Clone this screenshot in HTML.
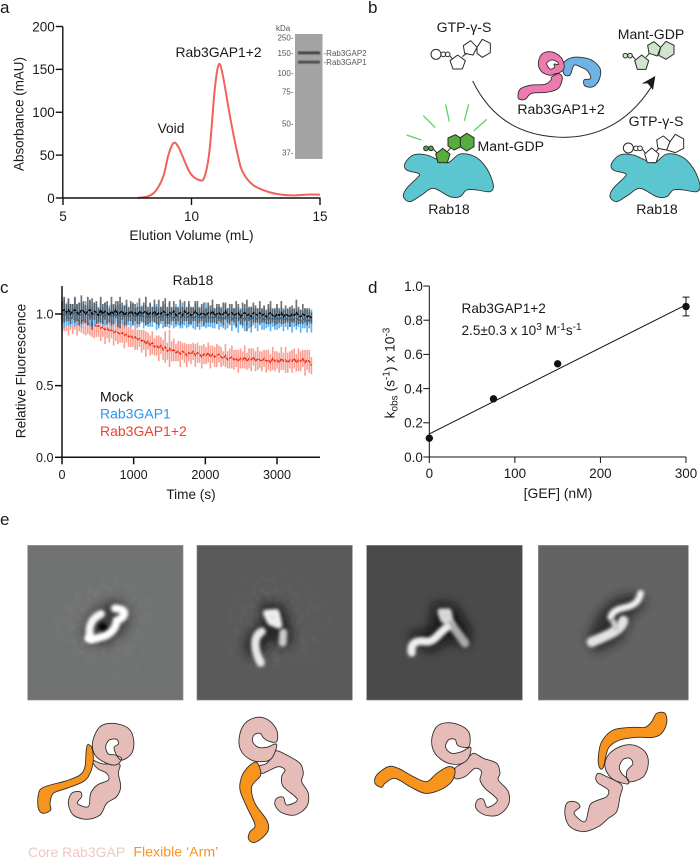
<!DOCTYPE html>
<html lang="en">
<head>
<meta charset="utf-8">
<title>Rab3GAP figure</title>
<style>
html,body{margin:0;padding:0;background:#fff}
svg{display:block}
text{font-family:"Liberation Sans",sans-serif;fill:#1a1a1a}
.ol{stroke:#2a2a2a;stroke-width:2.6;stroke-linejoin:round}
.core{fill:#e6bcb8}
.arm{fill:#f7941d}
.mol{fill:none;stroke:#2a2a2a;stroke-width:3;stroke-linejoin:round}
.w{fill:none;stroke-linecap:round;stroke-linejoin:round}
</style>
</head>
<body>
<svg id="fig" xmlns="http://www.w3.org/2000/svg" width="700" height="858" viewBox="0 0 700 858">
<defs>
<filter id="b3" filterUnits="userSpaceOnUse" x="0" y="0" width="1100" height="700"><feGaussianBlur stdDeviation="5"/></filter>
<filter id="b5" filterUnits="userSpaceOnUse" x="0" y="0" width="1100" height="700"><feGaussianBlur stdDeviation="15"/></filter>
<filter id="b1" x="-20%" y="-200%" width="140%" height="500%"><feGaussianBlur stdDeviation="0.6"/></filter>
<filter id="noise" x="0" y="0" width="100%" height="100%"><feTurbulence type="fractalNoise" baseFrequency="0.05" numOctaves="2" seed="7"/><feColorMatrix type="matrix" values="0 0 0 0 0.5 0 0 0 0 0.5 0 0 0 0 0.5 2.4 0 0 0 -0.95"/></filter>
<radialGradient id="fade"><stop offset="0.35" stop-color="#fff"/><stop offset="1" stop-color="#000"/></radialGradient>
<mask id="noiseMask1" maskUnits="userSpaceOnUse" x="82" y="105" width="468" height="466"><circle cx="316" cy="340" r="200" fill="url(#fade)"/></mask>
<mask id="noiseMask2" maskUnits="userSpaceOnUse" x="590" y="105" width="468" height="466"><circle cx="824" cy="340" r="200" fill="url(#fade)"/></mask>
<clipPath id="c1"><rect x="82" y="105" width="468" height="466"/></clipPath>
<clipPath id="c2"><rect x="590" y="105" width="468" height="466"/></clipPath>
<clipPath id="c3"><rect x="49" y="105" width="469" height="466"/></clipPath>
<clipPath id="c4"><rect x="564" y="105" width="452" height="466"/></clipPath>
</defs>

<text x="0" y="13" font-size="17">a</text>
<text x="368" y="13" font-size="17">b</text>
<text x="0" y="293" font-size="17">c</text>
<text x="368" y="293" font-size="17">d</text>
<text x="0" y="525" font-size="17">e</text>

<!-- Panel a -->
<g id="panelA"></g>
<text x="171" y="133" font-size="13.8" text-anchor="middle">Void</text>
<text x="175.5" y="57" font-size="13.9">Rab3GAP1+2</text>
<text x="191.5" y="240" font-size="13.8" text-anchor="middle">Elution Volume (mL)</text>
<text transform="translate(23.5,114) rotate(-90)" font-size="13.4" text-anchor="middle">Absorbance (mAU)</text>

<g>
  <rect x="295" y="34" width="27.5" height="125" fill="#a3a3a3"/>
  <rect x="298" y="51.4" width="22" height="3" fill="#4a4a4a" filter="url(#b1)"/>
  <rect x="298" y="60.6" width="22" height="3" fill="#525252" filter="url(#b1)"/>
  <g font-size="8">
    <text x="276" y="31" style="fill:#555">kDa</text>
    <text x="293.5" y="40.5" text-anchor="end" style="fill:#555">250-</text>
    <text x="293.5" y="56" text-anchor="end" style="fill:#555">150-</text>
    <text x="293.5" y="76" text-anchor="end" style="fill:#555">100-</text>
    <text x="293.5" y="94.5" text-anchor="end" style="fill:#555">75-</text>
    <text x="293.5" y="126.5" text-anchor="end" style="fill:#555">50-</text>
    <text x="293.5" y="155.5" text-anchor="end" style="fill:#555">37-</text>
    <text x="323.5" y="56" style="fill:#555">-Rab3GAP2</text>
    <text x="323.5" y="65" style="fill:#555">-Rab3GAP1</text>
  </g>
</g>

<!-- Panel b -->
<g transform="translate(350,0) scale(0.33333)">
  <path class="ol" fill="#5cc6d0" data-pts="165,490 190,465 230,465 265,480 295,488 330,462 375,470 410,505 430,555 420,575 380,570 350,570 330,590 300,590 250,565 215,585 180,605 160,590 170,565 205,530 205,520 170,510"/>
  <path class="ol" fill="#5cc6d0" data-pts="785,490 810,465 850,465 885,480 915,488 950,462 995,470 1030,505 1050,555 1040,575 1000,570 970,570 950,590 920,590 870,565 835,585 800,605 780,590 790,565 825,530 825,520 790,510"/>
  <path d="M368 243 C430 370 530 410 640 412 C750 412 840 360 903 262" fill="none" stroke="#2a2a2a" stroke-width="3"/>
  <polygon points="916,228 875,251 893,250 909,270" fill="#1a1a1a"/>
  <g stroke="#5fd16c" stroke-width="4">
    <line x1="170" y1="405" x2="214" y2="420"/>
    <line x1="220" y1="347" x2="256" y2="383"/>
    <line x1="287" y1="313" x2="298" y2="365"/>
    <line x1="356" y1="313" x2="343" y2="363"/>
    <line x1="410" y1="358" x2="372" y2="392"/>
  </g>
  <g class="mol" fill="none">
    <circle cx="258" cy="163" r="15" fill="#fff"/><circle cx="280" cy="163" r="7"/><circle cx="293" cy="163" r="7"/>
    <polygon points="323,165 346,182 337,207 309,207 300,182"/><path d="M300 168 L308 178 M337 170 L350 160"/>
    <polygon points="362,122 381,142 369,165 344,160 340,137"/><polygon points="381,142 397,118 421,130 421,158 397,172 381,160"/>
  </g>
  <g stroke="#2a2a2a" stroke-width="3" stroke-linejoin="round" fill="#cfe6cc">
    <circle cx="826" cy="167" r="7"/><circle cx="840" cy="167" r="7"/>
    <polygon points="875,165 896,182 888,208 862,208 854,182"/><path d="M847 168 L856 178 M888 172 L900 158" fill="none"/>
    <polygon points="912,125 932,142 922,168 897,160 893,136"/><polygon points="932,142 948,124 972,136 972,162 948,178 926,166"/>
  </g>
  <g stroke="#2a2a2a" stroke-width="3" stroke-linejoin="round" fill="#56ad3e">
    <circle cx="228" cy="445" r="7"/><circle cx="243" cy="445" r="7"/><path d="M250 447 L262 460" fill="none"/>
    <polygon points="278,445 300,462 292,488 264,488 257,462"/><path d="M292 455 L305 440" fill="none"/>
    <polygon points="316,404 335,416 333,440 312,450 294,438 294,414"/><polygon points="350,400 372,413 372,440 350,453 331,440 331,413"/>
  </g>
  <g stroke="#2a2a2a" stroke-width="3" stroke-linejoin="round" fill="#fff">
    <circle cx="835" cy="444" r="15"/><circle cx="858" cy="445" r="7"/><circle cx="870" cy="445" r="7"/><path d="M877 447 L886 460" fill="none"/>
    <polygon points="905,444 927,462 918,488 892,488 884,462"/><path d="M918 455 L930 440" fill="none"/>
    <polygon points="940,408 960,425 950,450 924,445 920,420"/><polygon points="960,425 976,403 1001,417 1001,445 976,458 950,450"/>
  </g>
  <path class="ol" fill="#6fb3e4" data-pts="640,190 670,172 720,178 750,205 748,238 730,260 705,258 702,240 722,235 712,212 690,200 672,196 660,225 642,222"/>
  <path class="ol" fill="#ee7bb0" data-pts="640,210 640,185 625,165 600,155 575,163 565,190 575,215 600,226 622,220 637,232 625,265 590,277 545,280 525,298 505,295 510,268 540,256 585,253 603,240 606,230"/>
  <path class="ol" fill="#fff" data-pts="590,190 605,180 622,186 625,194 612,192 614,202 600,207"/>
</g>
<g font-size="14.1" text-anchor="middle">
  <text x="464" y="32">GTP-γ-S</text>
  <text x="651" y="39">Mant-GDP</text>
  <text x="561" y="114">Rab3GAP1+2</text>
  <text x="656" y="126">GTP-γ-S</text>
  <text x="477.5" y="151" text-anchor="start">Mant-GDP</text>
  <text x="449" y="214">Rab18</text>
  <text x="657" y="214">Rab18</text>
</g>

<!-- Panel c -->
<g id="panelC"></g>
<text x="193" y="285" font-size="13.8" text-anchor="middle">Rab18</text>
<text x="191" y="499" font-size="13.6" text-anchor="middle">Time (s)</text>
<text transform="translate(25.5,371) rotate(-90)" font-size="13.6" text-anchor="middle">Relative Fluorescence</text>
<text x="100" y="401.5" font-size="14" style="fill:#111">Mock</text>
<text x="100" y="418.5" font-size="14" style="fill:#2b95ee">Rab3GAP1</text>
<text x="100" y="436" font-size="14" style="fill:#f0402a">Rab3GAP1+2</text>

<!-- Panel d -->
<g id="panelD"></g>
<text x="558" y="498" font-size="13.9" text-anchor="middle">[GEF] (nM)</text>
<text transform="translate(394.5,373) rotate(-90)" font-size="13.8" text-anchor="middle">k<tspan font-size="10" dy="3">obs</tspan><tspan dy="-3"> (s</tspan><tspan font-size="10" dy="-5">-1</tspan><tspan dy="5">) x 10</tspan><tspan font-size="10" dy="-5">-3</tspan></text>
<text x="461.5" y="313" font-size="13.6">Rab3GAP1+2</text>
<text x="461.5" y="335" font-size="13.6">2.5±0.3 x 10<tspan font-size="10" dy="-5">3</tspan><tspan dy="5"> M</tspan><tspan font-size="10" dy="-5">-1</tspan><tspan dy="5">s</tspan><tspan font-size="10" dy="-5">-1</tspan></text>

<!-- Panel e: class averages -->
<g transform="translate(0,510) scale(0.33333)">
  <g clip-path="url(#c1)">
    <rect x="82" y="105" width="468" height="466" fill="#717372" stroke="#aaa" stroke-width="3"/>
    <rect x="82" y="105" width="468" height="466" filter="url(#noise)" mask="url(#noiseMask1)" opacity=".12"/>
    <path d="M255 395 L250 340 L300 285 L355 265 L395 310 L375 365 L315 410 Z" fill="#333" filter="url(#b5)" opacity=".8"/>
    <path class="w" d="M272 385 C262 350 275 325 303 312" stroke="#f8f8f8" stroke-width="24" filter="url(#b3)"/>
    <path class="w" d="M345 295 C385 297 378 322 350 332 C348 352 335 375 300 382 C285 388 272 388 265 385" stroke="#fff" stroke-width="24" filter="url(#b3)"/>
    <ellipse cx="308" cy="350" rx="13" ry="11" fill="#050505" filter="url(#b3)"/>
  </g>
  <g clip-path="url(#c2)">
    <rect x="590" y="105" width="468" height="466" fill="#5a5a5a" stroke="#aaa" stroke-width="3"/>
    <rect x="590" y="105" width="468" height="466" filter="url(#noise)" mask="url(#noiseMask2)" opacity=".1"/>
    <path d="M785 278 L850 283 L880 372 L862 418 L810 390 L780 450 L735 428 L738 380 L782 340 Z" fill="#1a1a1a" filter="url(#b5)" opacity=".85"/>
    <path class="w" d="M800 310 L828 308 L836 345 L812 335 Z" stroke="#eee" stroke-width="22" fill="#eee" filter="url(#b3)"/>
    <path class="w" d="M850 368 L848 398" stroke="#ccc" stroke-width="24" filter="url(#b3)"/>
    <path class="w" d="M785 365 C758 380 762 420 782 458" stroke="#e8e8e8" stroke-width="25" filter="url(#b3)"/>
  </g>
</g>
<g transform="translate(350,510) scale(0.33333)">
  <g clip-path="url(#c3)">
    <rect x="49" y="105" width="469" height="466" fill="#4a4a4a" stroke="#aaa" stroke-width="3"/>
    <path d="M250 278 L315 283 L362 360 L355 412 L300 392 L240 428 L170 375 L240 355 Z" fill="#111" filter="url(#b5)" opacity=".8"/>
    <path class="w" d="M272 305 L295 305 L303 345 L280 328 Z" stroke="#d8d8d8" stroke-width="20" fill="#d8d8d8" filter="url(#b3)"/>
    <path class="w" d="M305 345 C320 365 335 385 345 400" stroke="#aaa" stroke-width="26" filter="url(#b3)"/>
    <path class="w" d="M185 428 C180 395 205 390 230 395 C255 395 265 370 290 352" stroke="#f0f0f0" stroke-width="24" filter="url(#b3)"/>
  </g>
  <g clip-path="url(#c4)">
    <rect x="564" y="105" width="452" height="466" fill="#636363" stroke="#aaa" stroke-width="3"/>
    <path d="M850 250 L890 275 L838 328 L818 388 L740 430 L710 385 L748 308 L790 265 Z" fill="#1c1c1c" filter="url(#b5)" opacity=".75"/>
    <path class="w" d="M872 250 C865 280 850 288 815 295 C795 300 785 310 782 322" stroke="#f0f0f0" stroke-width="20" filter="url(#b3)"/>
    <path class="w" d="M820 332 C815 360 775 375 725 396" stroke="#e4e4e4" stroke-width="30" filter="url(#b3)"/>
    <path class="w" d="M790 335 L800 355" stroke="#ccc" stroke-width="18" filter="url(#b3)"/>
  </g>
</g>

<!-- Panel e: cartoons -->
<g transform="translate(0,510) scale(0.33333)">
  <g>
    <path class="ol core" data-pts="275,750 292,775 320,790 325,810 292,825 272,850 265,890 232,880 245,860 240,845 215,850 205,880 220,915 260,928 300,915 320,880 350,860 362,830 355,790 358,762 310,762"/>
    <path class="ol arm" data-pts="262,705 275,712 280,750 270,790 250,815 200,835 160,850 150,880 152,900 130,910 115,895 115,855 130,832 200,812 240,795 255,770 258,730"/>
    <path class="ol core" data-pts="362,750 395,730 401,690 385,655 340,640 300,650 278,695 285,735 320,760 350,764 365,745 345,735 325,732 317,710 328,690 350,688 355,702 342,715"/>
  </g>
  <g>
    <path class="ol core" data-pts="775,770 800,760 820,735 830,722 860,735 900,760 910,790 905,815 925,850 920,890 885,915 845,908 825,885 830,865 850,862 860,885 892,868 850,830 845,800 855,780 835,770 800,785 785,790"/>
    <path class="ol arm" data-pts="770,757 782,795 755,830 765,880 800,930 805,960 785,985 760,998 745,985 750,965 765,945 740,890 720,840 725,800 745,770"/>
    <path class="ol core" data-pts="830,695 830,660 805,630 770,622 735,640 718,680 722,720 750,748 785,755 815,745 830,703 800,712 775,712 758,695 762,675 780,670 790,683 805,693"/>
  </g>
  <text x="84" y="1041" font-size="42" style="fill:#ecc8c4">Core Rab3GAP</text>
  <text x="400" y="1039" font-size="42.5" style="fill:#f7941d">Flexible ‘Arm’</text>
</g>
<g transform="translate(350,510) scale(0.33333)">
  <g>
    <path class="ol core" data-pts="315,775 345,755 370,730 400,745 440,760 450,790 445,810 475,845 475,885 445,915 405,915 378,895 382,870 400,868 412,892 442,870 405,835 390,810 395,785 375,775 345,800 315,805"/>
    <path class="ol arm" data-pts="295,770 315,780 305,815 270,840 225,850 180,830 135,805 105,820 95,832 75,820 80,795 115,770 145,775 190,800 230,815 260,790"/>
    <path class="ol core" data-pts="358,708 358,670 335,648 295,638 260,650 245,690 255,730 290,758 330,762 355,745 362,712 335,725 305,730 287,712 295,690 315,688 322,705 340,712"/>
  </g>
  <g>
    <path class="ol core" data-pts="745,790 770,800 815,825 810,860 800,905 775,925 745,950 700,965 660,950 645,915 650,880 675,875 690,890 672,910 705,935 720,885 745,870 770,860 775,840 745,820 737,805"/>
    <path class="ol arm" data-pts="748,772 745,740 755,695 790,660 850,652 885,652 905,635 920,610 945,610 950,640 935,670 910,682 860,682 810,690 775,715 760,772"/>
    <path class="ol core" data-pts="838,815 880,800 895,760 885,725 850,705 810,710 775,735 765,770 785,805 830,822 835,810 815,790 808,770 820,748 840,745 848,762 830,785"/>
  </g>
</g>
</svg>

<script>
// ---- Panel a data ----
const elutionVolume = [7.9,8.3,8.6,8.9,9.1,9.3,9.5,9.8,10.0,10.3,10.5,10.7,10.9,11.05,11.2,11.5,11.8,12.0,12.4,13.0,13.5,14.0,14.5,15.0];
const absorbance = [0,2,8,25,50,64,59,38,27,21,24,55,125,155,146,95,50,30,15,7,4,3,4,4];
const absorbanceTicks = [0,50,100,150,200];
const elutionTicks = [5,10,15];

// ---- Panel c data ----
const sampleTimes = [0,30,60,90,120,150,180,210,240,270,300,330,360,390,420,450,480,510,540,570,600,630,660,690,720,750,780,810,840,870,900,930,960,990,1020,1050,1080,1110,1140,1170,1200,1230,1260,1290,1320,1350,1380,1410,1440,1470,1500,1530,1560,1590,1620,1650,1680,1710,1740,1770,1800,1830,1860,1890,1920,1950,1980,2010,2040,2070,2100,2130,2160,2190,2220,2250,2280,2310,2340,2370,2400,2430,2460,2490,2520,2550,2580,2610,2640,2670,2700,2730,2760,2790,2820,2850,2880,2910,2940,2970,3000,3030,3060,3090,3120,3150,3180,3210,3240,3270,3300,3330,3360,3390,3420,3450,3480];
const mockMean = [1.02,1.03,1.01,1.03,1.00,1.02,1.03,1.01,1.00,1.03,
1.02,1.00,1.02,1.03,1.00,1.02,1.01,0.99,1.03,1.00,
1.02,1.01,0.99,1.02,1.00,1.03,1.00,1.01,1.02,0.99,
1.01,1.00,1.02,1.00,1.01,0.99,1.02,1.00,1.01,1.02,
0.99,1.01,1.00,1.02,0.99,1.01,1.00,1.02,1.01,0.99,
1.01,1.00,1.02,0.99,1.00,1.01,0.99,1.02,1.00,1.01,
0.99,1.00,1.02,1.00,0.99,1.01,1.00,0.99,1.01,1.00,
1.02,0.99,1.00,1.01,0.99,1.00,1.02,0.99,1.00,1.01,
0.99,1.00,1.01,0.98,1.00,1.01,0.99,1.00,0.98,1.01,
1.00,0.99,1.01,0.99,1.00,0.98,1.00,1.01,0.99,0.98,
1.00,0.99,1.01,0.98,1.00,0.99,0.98,1.00,0.99,1.01,
0.99,0.98,1.00,0.99,0.98,0.99,0.97];
const mockErr = [0.07,0.09,0.06,0.08,0.07,0.05,0.09,0.06,0.08,0.10,
0.07,0.06,0.10,0.07,0.11,0.06,0.08,0.05,0.09,0.07,
0.06,0.08,0.05,0.10,0.07,0.06,0.09,0.11,0.06,0.07,
0.09,0.05,0.07,0.08,0.06,0.06,0.09,0.05,0.07,0.10,
0.06,0.07,0.05,0.08,0.06,0.09,0.05,0.07,0.10,0.06,
0.08,0.05,0.07,0.06,0.05,0.09,0.06,0.07,0.05,0.08,
0.06,0.05,0.07,0.09,0.05,0.06,0.08,0.05,0.07,0.06,
0.08,0.05,0.07,0.06,0.05,0.08,0.06,0.05,0.07,0.06,
0.05,0.09,0.06,0.05,0.08,0.06,0.11,0.05,0.07,0.07,
0.06,0.05,0.08,0.05,0.06,0.05,0.07,0.08,0.05,0.06,
0.07,0.05,0.08,0.05,0.06,0.05,0.07,0.06,0.05,0.09,
0.06,0.05,0.07,0.05,0.06,0.05,0.04];
const gap1Mean = [1.00,1.00,0.99,1.01,0.99,1.00,1.01,0.99,1.00,0.99,
1.00,1.01,0.99,1.00,0.98,1.00,1.00,0.99,1.01,0.98,
1.00,0.99,1.00,0.98,0.99,1.00,0.98,1.00,0.99,0.98,
1.00,0.98,0.99,1.00,0.98,0.99,0.98,1.00,0.98,0.99,
0.97,0.99,0.98,1.00,0.98,0.97,0.99,0.98,1.00,0.97,
0.99,0.98,0.97,0.99,0.98,0.97,0.99,0.98,0.97,0.99,
0.98,0.97,0.98,0.99,0.97,0.98,0.97,0.99,0.98,0.97,
0.98,0.97,0.99,0.97,0.98,0.96,0.98,0.97,0.98,0.96,
0.98,0.97,0.96,0.98,0.97,0.96,0.98,0.97,0.96,0.98,
0.97,0.96,0.98,0.96,0.97,0.96,0.98,0.96,0.97,0.96,
0.97,0.96,0.98,0.96,0.97,0.96,0.97,0.95,0.97,0.96,
0.97,0.95,0.96,0.97,0.95,0.96,0.95];
const gap1Err = [0.08,0.10,0.07,0.09,0.08,0.07,0.10,0.07,0.08,0.09,
0.07,0.08,0.07,0.09,0.07,0.08,0.07,0.06,0.08,0.07,
0.08,0.07,0.06,0.09,0.07,0.06,0.08,0.07,0.06,0.08,
0.07,0.06,0.08,0.07,0.06,0.09,0.07,0.06,0.08,0.07,
0.06,0.08,0.07,0.06,0.09,0.07,0.06,0.08,0.07,0.06,
0.09,0.06,0.07,0.08,0.06,0.07,0.09,0.06,0.07,0.08,
0.06,0.07,0.09,0.06,0.08,0.07,0.06,0.09,0.07,0.06,
0.08,0.07,0.06,0.08,0.07,0.06,0.09,0.07,0.06,0.08,
0.06,0.07,0.09,0.06,0.07,0.08,0.06,0.07,0.09,0.06,
0.07,0.08,0.06,0.07,0.08,0.06,0.07,0.08,0.06,0.07,
0.08,0.06,0.07,0.08,0.06,0.07,0.06,0.08,0.06,0.07,
0.06,0.08,0.06,0.07,0.08,0.06,0.08];
const gap12Mean = [1.00,0.99,0.98,0.97,0.98,0.96,0.97,0.96,0.95,0.96,
0.94,0.95,0.93,0.94,0.92,0.93,0.91,0.92,0.90,0.91,
0.89,0.90,0.88,0.89,0.87,0.88,0.87,0.86,0.87,0.85,
0.86,0.84,0.85,0.83,0.84,0.82,0.83,0.81,0.82,0.79,
0.81,0.78,0.80,0.77,0.78,0.76,0.78,0.75,0.77,0.74,
0.76,0.74,0.75,0.73,0.74,0.72,0.74,0.73,0.71,0.73,
0.72,0.74,0.71,0.73,0.72,0.70,0.72,0.71,0.73,0.70,
0.72,0.70,0.71,0.72,0.70,0.69,0.71,0.68,0.69,0.70,
0.68,0.69,0.67,0.69,0.68,0.70,0.67,0.69,0.68,0.70,
0.67,0.69,0.68,0.67,0.69,0.67,0.68,0.66,0.69,0.67,
0.68,0.66,0.69,0.67,0.68,0.66,0.68,0.67,0.69,0.66,
0.68,0.67,0.69,0.66,0.68,0.67,0.64];
const gap12Err = [0.12,0.11,0.10,0.12,0.09,0.10,0.08,0.11,0.07,0.09,
0.08,0.10,0.07,0.09,0.08,0.10,0.07,0.08,0.09,0.07,
0.10,0.07,0.08,0.06,0.09,0.07,0.08,0.06,0.07,0.09,
0.06,0.07,0.08,0.06,0.09,0.07,0.06,0.08,0.07,0.09,
0.06,0.07,0.08,0.06,0.07,0.09,0.06,0.07,0.11,0.06,
0.13,0.07,0.08,0.06,0.07,0.09,0.06,0.07,0.08,0.06,
0.07,0.06,0.08,0.07,0.06,0.08,0.07,0.06,0.07,0.08,
0.06,0.07,0.08,0.06,0.07,0.05,0.08,0.06,0.07,0.08,
0.07,0.06,0.08,0.07,0.06,0.08,0.06,0.07,0.08,0.06,
0.07,0.08,0.06,0.07,0.06,0.08,0.07,0.06,0.08,0.07,
0.06,0.07,0.08,0.06,0.09,0.07,0.06,0.08,0.07,0.06,
0.08,0.07,0.06,0.09,0.07,0.08,0.06];
const fluorYTicks = [0,0.5,1];
const fluorYLabels = ['0.0','0.5','1.0'];
const fluorXTicks = [0,1000,2000,3000];

// ---- Panel d data ----
const gefConc = [0,75,150,300];
const kObs = [0.11,0.34,0.545,0.88];
const kObsErr = [0,0,0,0.055];
const fitGef = [0,300];
const fitK = [0.135,0.89];
const kYTicks = [0,0.2,0.4,0.6,0.8,1];
const kYLabels = ['0.0','0.2','0.4','0.6','0.8','1.0'];
const gefTicks = [0,100,200,300];

const NS = 'http://www.w3.org/2000/svg';
function mk(parent, tag, attrs) {
  const el = document.createElementNS(NS, tag);
  for (const k in attrs) el.setAttribute(k, attrs[k]);
  parent.appendChild(el);
  return el;
}
function smooth(pts, closed) {
  const n = pts.length, get = i => closed ? pts[(i + n) % n] : pts[Math.max(0, Math.min(n - 1, i))];
  let d = 'M' + pts[0][0].toFixed(1) + ' ' + pts[0][1].toFixed(1);
  const last = closed ? n : n - 1;
  for (let i = 0; i < last; i++) {
    const p0 = get(i - 1), p1 = get(i), p2 = get(i + 1), p3 = get(i + 2);
    d += ' C' + (p1[0] + (p2[0] - p0[0]) / 6).toFixed(1) + ' ' + (p1[1] + (p2[1] - p0[1]) / 6).toFixed(1) + ' ' +
         (p2[0] - (p3[0] - p1[0]) / 6).toFixed(1) + ' ' + (p2[1] - (p3[1] - p1[1]) / 6).toFixed(1) + ' ' +
         p2[0].toFixed(1) + ' ' + p2[1].toFixed(1);
  }
  return d + (closed ? ' Z' : '');
}
document.querySelectorAll('path[data-pts]').forEach(p => {
  const pts = p.getAttribute('data-pts').trim().split(/\s+/).map(s => s.split(',').map(Number));
  p.setAttribute('d', smooth(pts, true));
});

function axes(g, o) {
  const yAxis = mk(g, 'line', {x1:o.x0, x2:o.x0, y1:o.yTop, y2:o.y0, stroke:'#111', 'stroke-width':o.sw});
  
  
  const xAxis = mk(g, 'line', {x1:o.x0 - o.sw / 2, x2:o.xEnd, y1:o.y0, y2:o.y0, stroke:'#111', 'stroke-width':o.sw});
  
  
  o.yTicks.forEach((v, i) => {
    const t = mk(g, 'line', {x1:o.x0 - o.tick, x2:o.x0, y1:o.sy(v), y2:o.sy(v), stroke:'#111', 'stroke-width':o.sw});
    
    
    const l = mk(g, 'text', {x:o.x0 - o.tick - o.pad, y:o.sy(v) + o.fs * 0.36, 'font-size':o.fs, 'text-anchor':'end'});
    
    
    l.textContent = o.yLabels ? o.yLabels[i] : v;
  });
  o.xTicks.forEach(v => {
    const t = mk(g, 'line', {x1:o.sx(v), x2:o.sx(v), y1:o.y0, y2:o.y0 + o.tick, stroke:'#111', 'stroke-width':o.sw});
    
    
    const l = mk(g, 'text', {x:o.sx(v), y:o.labelY, 'font-size':o.fs, 'text-anchor':'middle'});
    
    
    l.textContent = v;
  });
}

// Panel a
(function () {
  const g = document.getElementById('panelA');
  const sx = v => 63 + (v - 5) * 25.7, sy = v => 198 - v * 0.8575;
  const line = mk(g, 'path', {d: smooth(elutionVolume.map((v, i) => [sx(v), sy(absorbance[i])]), false), fill:'none', stroke:'#f0625a', 'stroke-width':2});
  
  
  axes(g, {x0:62.8, y0:198, yTop:26.5, xEnd:320.5, sw:1.4, tick:7, pad:1, fs:13.5, sx, sy, yTicks:absorbanceTicks, xTicks:elutionTicks, labelY:221});
})();

// Panel c
(function () {
  const g = document.getElementById('panelC');
  const sx = v => 62 + v * 0.07167, sy = v => 457.3 - v * 143.3;
  const series = [
    {name:'rab3gap1-2', mean:gap12Mean, err:gap12Err, bar:'#fb9f92', line:'#ee2a14', op:1, w:1.6},
    {name:'rab3gap1', mean:gap1Mean, err:gap1Err, bar:'#5ab0f3', line:'#1a84e0', op:1, w:1.6},
    {name:'mock', mean:mockMean, err:mockErr, bar:'#4f4f4f', line:'#000', op:.8, w:1.7}
  ];
  series.forEach(s => {
    const grp = mk(g, 'g', {opacity:1});
    
    
    s.mean.forEach((m, i) => {
      const x = sx(sampleTimes[i]);
      const b = mk(grp, 'line', {x1:x, x2:x, y1:sy(m - s.err[i]), y2:sy(m + s.err[i]), stroke:s.bar, 'stroke-width':s.w, 'stroke-opacity':s.op});
      
      
    });
    const pts = s.mean.map((m, i) => sx(sampleTimes[i]).toFixed(1) + ',' + sy(m).toFixed(1)).join(' ');
    const pl = mk(grp, 'polyline', {points:pts, fill:'none', stroke:s.line, 'stroke-width':1.3, 'stroke-dasharray':'3.5 1.2'});
    
    
  });
  axes(g, {x0:62, y0:457.3, yTop:286, xEnd:320, sw:1.5, tick:7, pad:1.5, fs:12.6, sx, sy, yTicks:fluorYTicks, yLabels:fluorYLabels, xTicks:fluorXTicks, labelY:479});
})();

// Panel d
(function () {
  const g = document.getElementById('panelD');
  const sx = v => 429.3 + v * 0.8557, sy = v => 457 - v * 171;
  const fit = mk(g, 'line', {x1:sx(fitGef[0]), y1:sy(fitK[0]), x2:sx(fitGef[1]), y2:sy(fitK[1]), stroke:'#111', 'stroke-width':1});
  
  
  axes(g, {x0:429.3, y0:457, yTop:286, xEnd:686, sw:1, tick:6, pad:0.5, fs:13.4, sx, sy, yTicks:kYTicks, yLabels:kYLabels, xTicks:gefTicks, labelY:478});
  gefConc.forEach((c, i) => {
    const x = sx(c), y = sy(kObs[i]), e = kObsErr[i];
    if (e > 0) {
      const eb = mk(g, 'path', {d:'M' + (x - 3.5) + ' ' + sy(kObs[i] + e) + ' H' + (x + 3.5) + ' M' + x + ' ' + sy(kObs[i] + e) + ' V' + sy(kObs[i] - e) + ' M' + (x - 3.5) + ' ' + sy(kObs[i] - e) + ' H' + (x + 3.5), fill:'none', stroke:'#111', 'stroke-width':1});
      
      
    }
    const dot = mk(g, 'circle', {cx:x, cy:y, r:3.7, fill:'#111'});
    
    
  });
})();
</script>
</body>
</html>
